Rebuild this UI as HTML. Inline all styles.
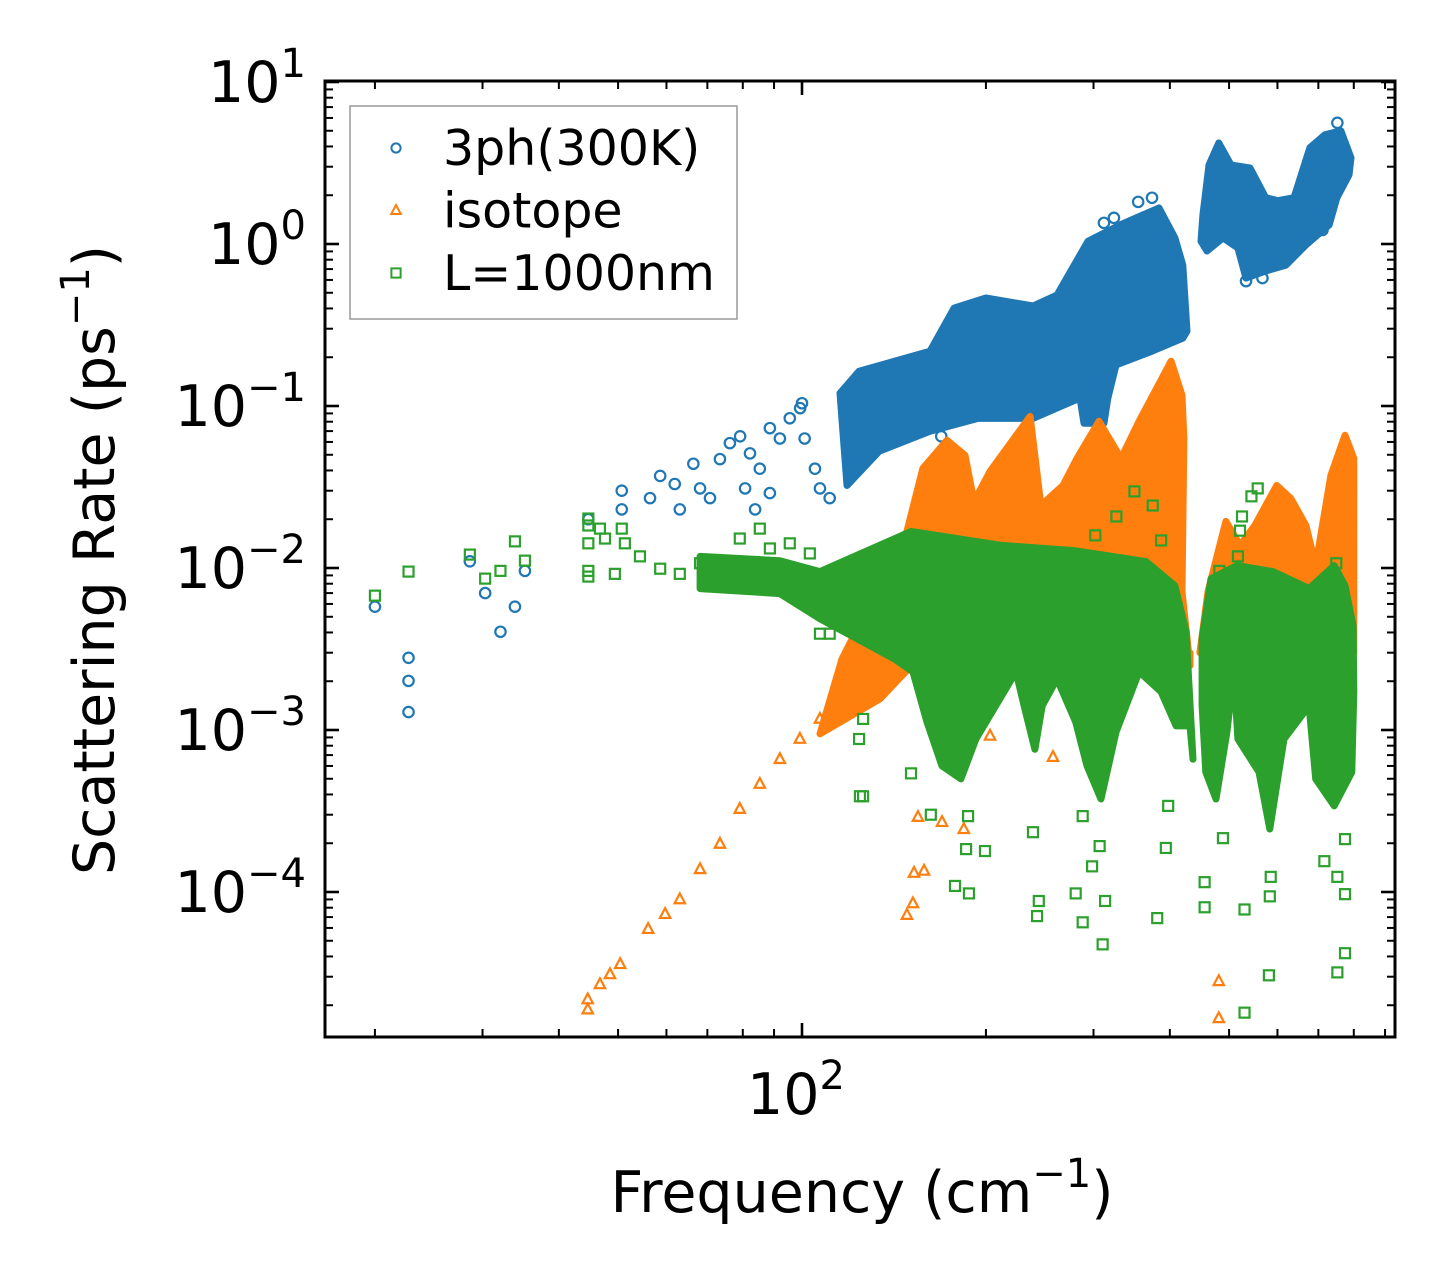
<!DOCTYPE html>
<html><head><meta charset="utf-8"><style>
html,body{margin:0;padding:0;background:#fff;}
svg{display:block;font-family:"DejaVu Sans","Liberation Sans",sans-serif;}
</style></head><body>
<svg id="chart" width="1455" height="1287" viewBox="0 0 1455 1287" xmlns="http://www.w3.org/2000/svg">
<defs><clipPath id="plotclip"><rect x="325" y="81" width="1070" height="956"/></clipPath></defs>
<g id="bands" clip-path="url(#plotclip)"></g>
<g id="axes"></g>
</svg>
<script>
// ---- data (frequency in cm^-1, rate in ps^-1) ----
const blueBand1F=[115.4,124,162,177.4,200,238.8,261.4,293.8,331.5,384,407.6,420,426.7,420,374,326.5,316.7,312,289.4,285.1,238.8,194.1,162,133.7,118.5];
const blueBand1R=[0.120,0.164,0.218,0.402,0.464,0.414,0.484,1.04,1.31,1.67,1.09,0.741,0.290,0.262,0.218,0.179,0.112,0.0782,0.0782,0.112,0.0839,0.0839,0.0698,0.0525,0.0323];
const blueBand2F=[463.5,481,503.6,541,574,600.6,638.6,678,717.6,762,791.6,785.6,750.8,728.8,668,619.5,574,533,517,488.6,460,449.8,453];
const blueBand2R=[3.08,4.21,3.08,2.95,1.93,1.85,1.93,3.93,4.72,5.0,3.40,2.67,1.93,1.31,0.986,0.741,0.681,0.616,0.945,1.09,0.905,1.04,1.51];
const blueF=[20.0,22.7,22.7,22.7,28.6,30.3,32.1,33.9,35.2,44.7,50.7,58.6,61.9,66.4,68.1,70.7,73.4,76.2,79.2,82.2,85.3,88.6,92.0,95.5,99.3,101,105,107,111,88.6,83.8,80.7,56.4,63.1,50.7,312,324,355,374,281,752,711,567,533,169,100];
const blueR=[0.00577,0.00279,0.00201,0.00129,0.011,0.0070,0.00404,0.00577,0.0096,0.020,0.030,0.037,0.033,0.044,0.031,0.027,0.047,0.059,0.065,0.051,0.041,0.073,0.063,0.084,0.097,0.063,0.041,0.031,0.027,0.029,0.023,0.031,0.027,0.023,0.023,1.35,1.45,1.82,1.93,0.69,5.6,1.22,0.616,0.59,0.065,0.104];

const orangeBand1F=[116.3,148.5,157.7,172.7,184.8,191.2,203.1,236.2,246.0,267.4,281.9,306.3,332.7,356.2,401.8,418.8,421.7,418.8,431.5,431.5,170,134.2,107];
const orangeBand1R=[0.00275,0.0168,0.0412,0.0614,0.0496,0.0257,0.0395,0.0863,0.0243,0.0323,0.0475,0.0804,0.0475,0.0804,0.189,0.1165,0.0631,0.00714,0.0025,0.003,0.004,0.00156,0.000946];
const orangeBand2F=[461.9,494,521,551,598.4,631,668,693,734,774,800,800,448];
const orangeBand2R=[0.00714,0.0194,0.0138,0.0183,0.0323,0.0269,0.0183,0.01035,0.0373,0.0659,0.0475,0.003,0.003];
const orangeF=[44.6,44.6,46.7,48.5,50.4,56.0,59.7,63.1,68.1,73.4,79.1,85.3,92.0,99.2,107,115.4,124.4,154.8,169.5,184,152.5,158.4,151.9,148.5,257.5,481,481,203.1,728.8,411,411,411,411,411,788.5,788.5,788.5,788.5,788.5,788.5];
const orangeR=[1.88e-5,2.17e-5,2.69e-5,3.10e-5,3.58e-5,5.9e-5,7.3e-5,9.0e-5,1.38e-4,1.98e-4,3.25e-4,4.64e-4,6.6e-4,8.8e-4,1.17e-3,1.80e-3,2.75e-3,2.90e-4,2.70e-4,2.44e-4,1.31e-4,1.35e-4,8.5e-5,7.2e-5,6.8e-4,2.81e-5,1.66e-5,9.2e-4,1.2e-3,0.0547,0.0424,0.031,0.025,0.0188,0.0276,0.0211,0.0159,0.0114,0.0080,0.0065];

const greenBand1F=[68.1,92.0,107,150.8,211.7,278.6,365.6,407.6,425.2,436.5,431.5,409.5,387,356.2,326.5,308.6,292.7,280.5,261.4,247.2,240.5,230.9,224,192.6,182,169.5,160.2,151.9,141.5,123,107,92.0,68.1];
const greenBand1R=[0.0118,0.0111,0.0095,0.0168,0.0138,0.0128,0.01096,0.00778,0.00404,0.00066,0.00106,0.00106,0.00172,0.00229,0.00097,0.000375,0.0006,0.00112,0.00207,0.00141,0.00076,0.00141,0.00229,0.00088,0.000499,0.0006,0.00112,0.00229,0.00275,0.00366,0.00486,0.00695,0.00746];
const greenBand2F=[451.6,467,515,590,676,743,774,798,800,794,743,693,676,615,583,559.7,517,509,496,476,458,451.6];
const greenBand2R=[0.00366,0.0086,0.01035,0.0095,0.00746,0.01035,0.00778,0.0044,0.00172,0.00055,0.00034,0.000499,0.00141,0.00088,0.000245,0.00055,0.00088,0.00229,0.00097,0.000375,0.00055,0.00141];
const greenF=[20.0,22.7,28.6,30.3,32.1,33.9,35.2,44.7,44.7,44.7,44.7,44.7,46.7,47.6,50.7,51.3,49.4,54.3,58.6,63.1,68.1,73.4,79.1,80.7,85.3,88.6,95.5,99.2,103,107,111,124.4,125.9,124,125.9,150.8,162.5,187,185.6,199.3,178,187.6,238.8,244.1,242.5,280.5,288,307,298.4,313.4,288,310.5,381.4,394,397.5,456,456,488.6,530,530,581,583,585,752,774,716,774,752,774,350,375,327,302,387,557,544,525,521,749,482,517];
const greenR=[0.00675,0.0095,0.0121,0.0086,0.0096,0.0146,0.0111,0.0202,0.0183,0.0142,0.0096,0.00885,0.0175,0.0152,0.0175,0.0142,0.0092,0.0118,0.0099,0.0092,0.0107,0.0086,0.0152,0.0092,0.0175,0.0132,0.0142,0.0065,0.0123,0.00393,0.00393,3.9e-4,1.17e-3,8.8e-4,3.9e-4,5.4e-4,3.0e-4,2.94e-4,1.84e-4,1.79e-4,1.09e-4,9.8e-5,2.34e-4,8.8e-5,7.1e-5,9.8e-5,2.94e-4,1.92e-4,1.44e-4,8.8e-5,6.5e-5,4.75e-5,6.9e-5,1.87e-4,3.40e-4,1.15e-4,8.05e-5,2.15e-4,7.8e-5,1.8e-5,3.06e-5,9.4e-5,1.24e-4,3.19e-5,4.19e-5,1.55e-4,9.7e-5,1.24e-4,2.12e-4,0.0297,0.0243,0.0208,0.0159,0.0148,0.031,0.0277,0.0208,0.017,0.0107,0.0096,0.0118];

const yTickExp=[1,0,-1,-2,-3,-4];
const xTickExp=[2];

// ---- axis functions ----
const X0=802, XDEC=611, Y0=244, YDEC=162;
const L=325,R=1395,T=81,B=1037;
function xs(f){return X0+XDEC*Math.log10(f/100);}
function ys(r){return Y0-YDEC*Math.log10(r);}
const NS='http://www.w3.org/2000/svg';
function mk(tag,attrs,parent){const e=document.createElementNS(NS,tag);for(const k in attrs)e.setAttribute(k,attrs[k]);parent.appendChild(e);return e;}
const bands=document.getElementById('bands');
const axes=document.getElementById('axes');
const BLUE='#1f77b4',ORANGE='#ff7f0e',GREEN='#2ca02c';

function band(F,Rr,color,name){
  const pts=F.map((f,i)=>xs(f).toFixed(1)+','+ys(Rr[i]).toFixed(1)).join(' ');
  const p=mk('polygon',{points:pts,fill:color,stroke:color,'stroke-width':7,'stroke-linejoin':'round'},bands);
  
  
}
function circle(g,x,y,c){return mk('circle',{cx:x,cy:y,r:5.2,fill:'none',stroke:c,'stroke-width':2.2},g);}
function tri(g,x,y,c){return mk('polygon',{points:`${x},${y-6} ${x-5.2},${y+3.8} ${x+5.2},${y+3.8}`,fill:'none',stroke:c,'stroke-width':2.2},g);}
function sq(g,x,y,c){return mk('rect',{x:x-5,y:y-5,width:10,height:10,fill:'none',stroke:c,'stroke-width':2.2},g);}
function points(F,Rr,fn,color,name){
  const g=mk('g',{},bands);
  
  
  F.forEach((f,i)=>{const m=fn(g,xs(f),ys(Rr[i]),color);
    
    });
}
band(blueBand1F,blueBand1R,BLUE,'3ph-dense-band-low');
band(blueBand2F,blueBand2R,BLUE,'3ph-dense-band-high');
points(blueF,blueR,circle,BLUE,'3ph-series');
band(orangeBand1F,orangeBand1R,ORANGE,'isotope-dense-band-low');
band(orangeBand2F,orangeBand2R,ORANGE,'isotope-dense-band-high');
points(orangeF,orangeR,tri,ORANGE,'isotope-series');
band(greenBand1F,greenBand1R,GREEN,'boundary-dense-band-low');
band(greenBand2F,greenBand2R,GREEN,'boundary-dense-band-high');
points(greenF,greenR,sq,GREEN,'boundary-series');

// ---- ticks ----
function line(x1,y1,x2,y2,w,parent){return mk('line',{x1,y1,x2,y2,stroke:'#000','stroke-width':w},parent);}
const tg=mk('g',{},axes);


for(let e=-5;e<=1;e++){
  for(let m=1;m<10;m++){
    const y=ys(m*Math.pow(10,e));
    if(y<T-0.5||y>B+0.5)continue;
    const len=m===1?14:8, w=m===1?2.6:2;
    line(L,y,L+len,y,w,tg);line(R,y,R-len,y,w,tg);
  }
}
for(let e=1;e<=2;e++){
  for(let m=1;m<10;m++){
    const x=xs(m*Math.pow(10,e));
    if(x<L||x>R)continue;
    const len=m===1&&e===2?14:8,w=m===1&&e===2?2.6:2;
    line(x,B,x,B-len,w,tg);line(x,T,x,T+len,w,tg);
  }
}
const frame=mk('rect',{x:L,y:T,width:R-L,height:B-T,fill:'none',stroke:'#000','stroke-width':3},axes);



yTickExp.forEach(e=>{
  const t=mk('text',{x:306,y:ys(Math.pow(10,e))+20,'text-anchor':'end','font-size':57,fill:'#000'},axes);
  
  
  const a=mk('tspan',{},t);a.textContent='10';
  const s=mk('tspan',{dy:-25,'font-size':40},t);s.textContent=e<0?'\u2212'+(-e):String(e);
});
xTickExp.forEach(e=>{
  const t=mk('text',{x:xs(Math.pow(10,e))-6,y:1114,'text-anchor':'middle','font-size':57,fill:'#000'},axes);
  
  
  const a=mk('tspan',{},t);a.textContent='10';
  const s=mk('tspan',{dy:-25,'font-size':40},t);s.textContent=String(e);
});
</script>
<script>
(function(){
const svg=document.getElementById('chart');
const NS='http://www.w3.org/2000/svg';
function mk(tag,attrs,parent){const e=document.createElementNS(NS,tag);for(const k in attrs)e.setAttribute(k,attrs[k]);parent.appendChild(e);return e;}
const xt=mk('text',{x:862,y:1212,'text-anchor':'middle','font-size':57,fill:'#000'},svg);


mk('tspan',{},xt).textContent='Frequency (cm';
mk('tspan',{dy:-25,'font-size':40},xt).textContent='\u22121';
mk('tspan',{dy:25},xt).textContent=')';
const yt=mk('text',{x:0,y:0,'text-anchor':'middle','font-size':57,fill:'#000',transform:'translate(114,560) rotate(-90)'},svg);


mk('tspan',{},yt).textContent='Scattering Rate (ps';
mk('tspan',{dy:-25,'font-size':40},yt).textContent='\u22121';
mk('tspan',{dy:25},yt).textContent=')';
const lg=mk('g',{},svg);


mk('rect',{x:350,y:106,width:387,height:213,fill:'#fff','fill-opacity':0.8,stroke:'#999','stroke-width':1.5},lg);
const items=[['3ph(300K)','#1f77b4','c'],['isotope','#ff7f0e','t'],['L=1000nm','#2ca02c','s']];
items.forEach((it,i)=>{
  const y=148+i*62.5, x=396;
  const g=mk('g',{},lg);
  
  
  if(it[2]==='c')mk('circle',{cx:x,cy:y,r:4.6,fill:'none',stroke:it[1],'stroke-width':2},g);
  if(it[2]==='t')mk('polygon',{points:`${x},${y-5.5} ${x-4.8},${y+3.5} ${x+4.8},${y+3.5}`,fill:'none',stroke:it[1],'stroke-width':2},g);
  if(it[2]==='s')mk('rect',{x:x-4.6,y:y-4.6,width:9.2,height:9.2,fill:'none',stroke:it[1],'stroke-width':2},g);
  const t=mk('text',{x:443,y:y+17,'font-size':49,fill:'#000'},g);
  t.textContent=it[0];
});
})();
</script>
</body></html>
